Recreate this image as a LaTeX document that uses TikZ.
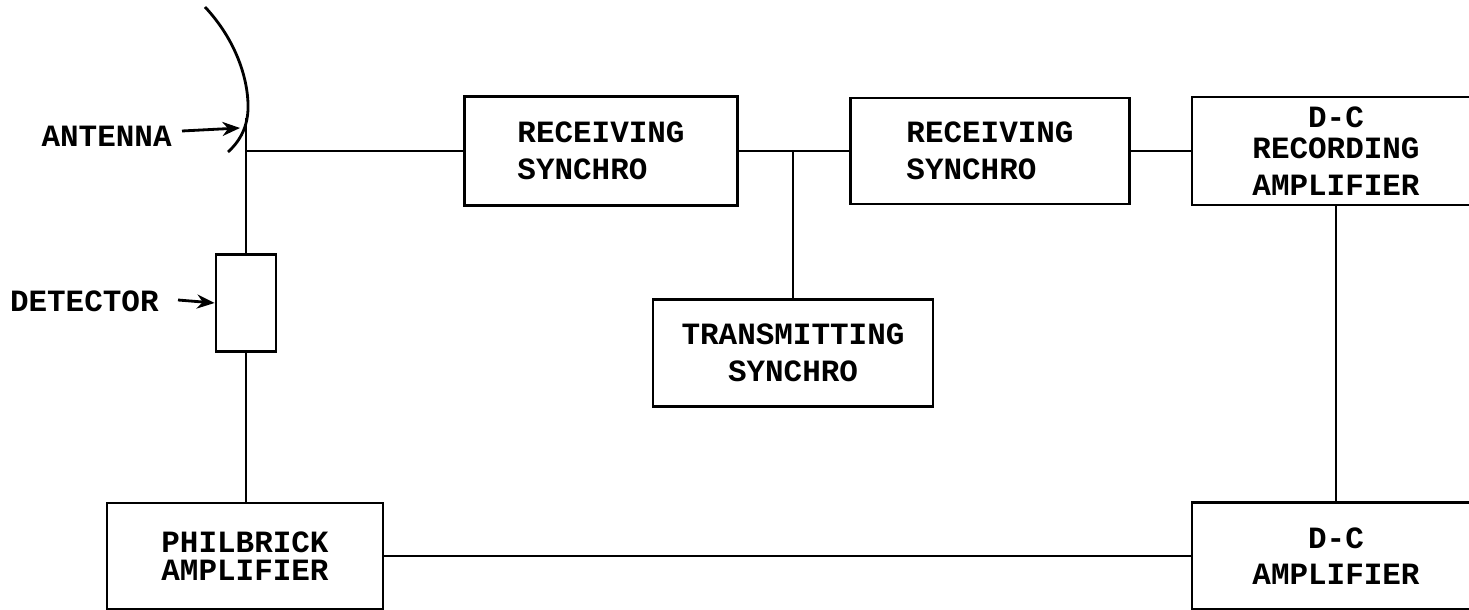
\documentclass[tikz,border=0pt]{standalone}
\usepackage{fontspec}
\setmonofont{Liberation Mono}
\usepackage{tikz}
\usetikzlibrary{arrows.meta}

\begin{document}
\begin{tikzpicture}[
    x=0.01cm, y=-0.01cm,
    font=\ttfamily\bfseries\fontsize{8.8}{10.4}\selectfont,
    line width=0.8pt,
    blk/.style={draw, rectangle, inner sep=0pt, align=center},
    tag/.style={anchor=east, inner sep=0pt},
    ptr/.style={-{Stealth[length=5pt, width=4pt]}}
]
% Frame of the sheet
\useasboundingbox (0,0) rectangle (1469,610);
\clip (0,0) rectangle (1469,610);

% Row positions (top to bottom)
\def\rowA{151}   % signal line
\def\rowB{556}   % amplifier line

% Blocks
\node[blk, minimum width=2.73cm, minimum height=1.09cm, align=left] (rsA) at (601,\rowA) {RECEIVING\\SYNCHRO};
\node[blk, minimum width=2.79cm, minimum height=1.06cm, align=left] (rsB) at (990,\rowA) {RECEIVING\\SYNCHRO};
\node[blk, minimum width=2.88cm, minimum height=1.08cm] (rec) at (1336,\rowA) {D-C\\[-1.6pt]RECORDING\\AMPLIFIER};
\node[blk, minimum width=2.80cm, minimum height=1.07cm] (tsyn) at (793,353) {TRANSMITTING\\SYNCHRO};
\node[blk, minimum width=0.60cm, minimum height=0.97cm] (det) at (246,303) {};
\node[blk, minimum width=2.76cm, minimum height=1.06cm] (phil) at (245,\rowB) {PHILBRICK\\[-2.4pt]AMPLIFIER};
\node[blk, minimum width=2.88cm, minimum height=1.07cm] (dca) at (1336,\rowB) {D-C\\AMPLIFIER};

% Antenna dish and feed
\draw (205,7) .. controls (236,40) and (249,80) .. (248,110)
      .. controls (247,130) and (238,143) .. (228,152);
\coordinate (feed) at (246,118);
\coordinate (tap) at (246,\rowA);
\draw (feed) -- (det.north);

% Labels with pointers
\node[tag] (antlbl) at (173,136) {ANTENNA};
\node[tag] (detlbl) at (160,301) {DETECTOR};
\coordinate (antpt) at (240,128);
\draw[ptr] (182,131) -- (antpt);
\draw[ptr] (178,300) -- (det.west);

% Connections
\draw (tap) -- (rsA.west);
\draw (rsA.east) -- (rsB.west);
\draw (tsyn.north) -- (tsyn.north |- rsA.east);
\draw (rsB.east) -- (rec.west);
\draw (rec.south) -- (dca.north);
\draw (det.south) -- (det.south |- phil.north);
\draw (phil.east) -- (dca.west);

\end{tikzpicture}
\end{document}
